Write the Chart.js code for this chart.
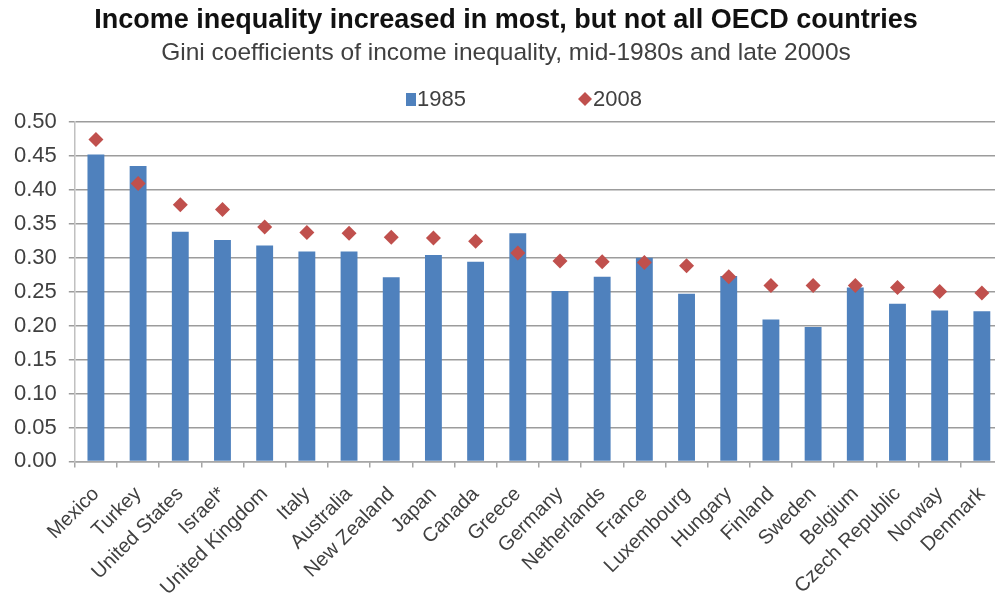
<!DOCTYPE html>
<html>
<head>
<meta charset="utf-8">
<script src="https://cdn.jsdelivr.net/npm/chart.js@4/dist/chart.umd.min.js"></script>
<style>
  html, body { margin: 0; padding: 0; background: #fff; overflow: hidden; }
  #wrap { width: 995px; height: 603px; overflow: hidden; }
  #box { width: 1014px; height: 603px; }
</style>
</head>
<body>
<div id="wrap"><div id="box"><canvas id="gini-chart"></canvas></div></div>
<script>
    // Data
    const countries = [
      "Mexico", "Turkey", "United States", "Israel*", "United Kingdom", "Italy",
      "Australia", "New Zealand", "Japan", "Canada", "Greece", "Germany",
      "Netherlands", "France", "Luxembourg", "Hungary", "Finland", "Sweden",
      "Belgium", "Czech Republic", "Norway", "Denmark"
    ];
    const gini1985 = [
      0.452, 0.435, 0.338, 0.326, 0.318, 0.309,
      0.309, 0.271, 0.304, 0.294, 0.336, 0.251,
      0.272, 0.300, 0.247, 0.273, 0.209, 0.198,
      0.256, 0.232, 0.222, 0.221
    ];
    const gini2008 = [
      0.474, 0.409, 0.378, 0.371, 0.345, 0.337,
      0.336, 0.330, 0.329, 0.324, 0.307, 0.295,
      0.294, 0.293, 0.288, 0.272, 0.259, 0.259,
      0.259, 0.256, 0.250, 0.248
    ];
    const seriesLabels = ["1985", "2008"];
    const yTicks = [0, 0.05, 0.10, 0.15, 0.20, 0.25, 0.30, 0.35, 0.40, 0.45, 0.50];

    const BLUE = "#4f81bd";
    const RED = "#c0504d";
    const TEXT = "#404040";
    const FONT = "'Liberation Sans', Arial, sans-serif";

    // Legend drawn by hand so the two entries sit far apart like the original
    const wideLegend = {
      id: "wideLegend",
      afterDraw(chart) {
        const ctx = chart.ctx;
        const y = 99;
        ctx.save();
        ctx.font = "22px " + FONT;
        ctx.textBaseline = "middle";

        // 1985 - square
        ctx.fillStyle = chart.data.datasets[0].backgroundColor;
        ctx.fillRect(406, y - 6, 10, 13);
        ctx.fillStyle = TEXT;
        ctx.fillText(chart.data.datasets[0].label, 417, y + 1);

        // 2008 - diamond
        ctx.fillStyle = chart.data.datasets[1].backgroundColor;
        ctx.beginPath();
        ctx.moveTo(585, y - 7);
        ctx.lineTo(592, y);
        ctx.lineTo(585, y + 7);
        ctx.lineTo(578, y);
        ctx.closePath();
        ctx.fill();
        ctx.fillStyle = TEXT;
        ctx.fillText(chart.data.datasets[1].label, 593, y + 1);
        ctx.restore();
      }
    };

    const giniChart = new Chart(document.getElementById("gini-chart"), {
      type: "bar",
      data: {
        labels: countries,
        datasets: [
          {
            type: "bar",
            label: seriesLabels[0],
            data: gini1985,
            backgroundColor: BLUE,
            barPercentage: 0.4,
            categoryPercentage: 1.0,
            order: 2
          },
          {
            type: "line",
            label: seriesLabels[1],
            data: gini2008,
            showLine: false,
            pointStyle: "rectRot",
            pointRadius: 7.5,
            pointBorderWidth: 0,
            backgroundColor: RED,
            borderColor: RED,
            order: 1
          }
        ]
      },
      options: {
        responsive: true,
        maintainAspectRatio: false,
        animation: false,
        layout: { padding: { left: 2, right: 4, top: 0, bottom: -12 } },
        plugins: {
          legend: { display: false },
          tooltip: { enabled: false },
          title: {
            display: true,
            text: "Income inequality increased in most, but not all OECD countries",
            color: "#111",
            font: { family: FONT, size: 27, weight: "bold" },
            padding: { top: 4, bottom: 2 }
          },
          subtitle: {
            display: true,
            text: "Gini coefficients of income inequality, mid-1980s and late 2000s",
            color: TEXT,
            font: { family: FONT, size: 24.5 },
            padding: { top: 0, bottom: 54 }
          }
        },
        scales: {
          x: {
            grid: {
              offset: true,
              drawOnChartArea: false,
              tickLength: 6,
              color: "#a6a6a6",
              lineWidth: 1.5
            },
            border: { color: "#a6a6a6", width: 1.5 },
            ticks: {
              color: TEXT,
              font: { family: FONT, size: 20 },
              maxRotation: 45,
              minRotation: 45,
              autoSkip: false,
              padding: 15
            }
          },
          y: {
            min: 0,
            max: 0.5,
            afterBuildTicks(axis) {
              axis.ticks = yTicks.map(v => ({ value: v }));
            },
            grid: {
              color: "#9c9c9c",
              lineWidth: 1.5,
              tickLength: 6
            },
            border: { color: "#c0c0c0", width: 1.5 },
            ticks: {
              color: TEXT,
              font: { family: FONT, size: 22 },
              padding: 12,
              callback: v => Number(v).toFixed(2)
            }
          }
        }
      },
      plugins: [wideLegend]
    });
</script>
</body>
</html>
